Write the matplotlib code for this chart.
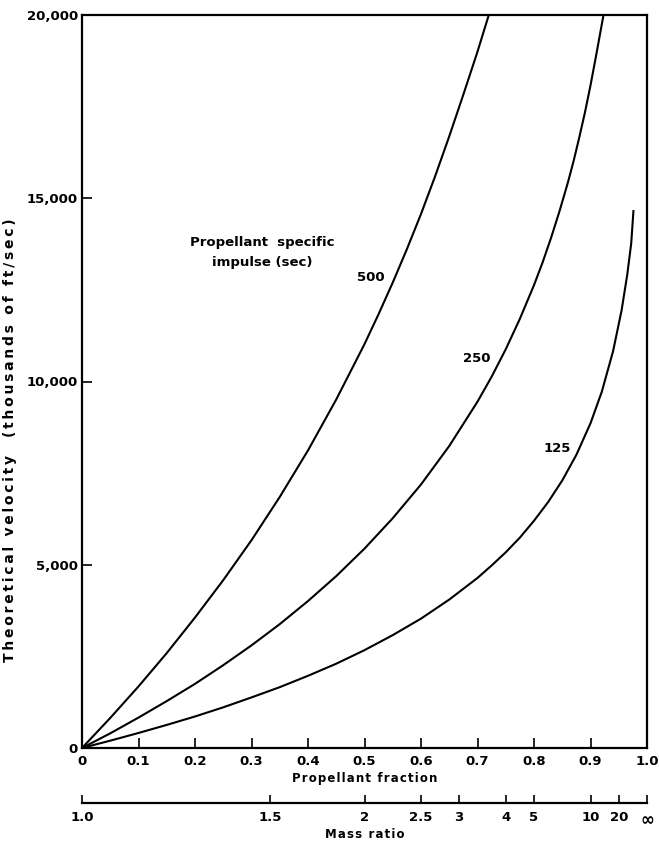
import matplotlib
matplotlib.use("Agg")
import matplotlib.pyplot as plt

# propellant fraction vs theoretical velocity
frac_500 = [0, 0.05, 0.1, 0.15, 0.2, 0.25, 0.3, 0.35, 0.4, 0.45, 0.5, 0.525, 0.55, 0.575,
            0.6, 0.625, 0.65, 0.675, 0.7, 0.72]
vel_500 = [0, 820, 1680, 2590, 3560, 4580, 5670, 6850, 8120, 9510, 11020, 11840, 12700, 13610,
           14570, 15600, 16690, 17830, 19000, 20000]

frac_250 = [0, 0.05, 0.1, 0.15, 0.2, 0.25, 0.3, 0.35, 0.4, 0.45, 0.5, 0.55, 0.6, 0.65, 0.7, 0.725,
            0.75, 0.775, 0.8, 0.815, 0.83, 0.845, 0.86, 0.87, 0.88, 0.89, 0.9, 0.91, 0.923]
vel_250 = [0, 400, 830, 1280, 1750, 2260, 2800, 3380, 4010, 4690, 5440, 6270, 7190, 8240, 9450, 10130,
           10880, 11710, 12630, 13240, 13910, 14640, 15430, 16010, 16650, 17330, 18080, 18900, 20000]

frac_125 = [0, 0.05, 0.1, 0.15, 0.2, 0.25, 0.3, 0.35, 0.4, 0.45, 0.5, 0.55, 0.6, 0.65, 0.7, 0.725,
            0.75, 0.775, 0.8, 0.825, 0.85, 0.875, 0.9, 0.92, 0.94, 0.955, 0.965, 0.972, 0.976]
vel_125 = [0, 200, 410, 630, 860, 1110, 1380, 1660, 1970, 2300, 2670, 3080, 3530, 4050, 4640, 4980,
           5340, 5740, 6200, 6710, 7300, 8000, 8860, 9720, 10830, 11940, 12910, 13760, 14650]

x_ticks = [0, 0.1, 0.2, 0.3, 0.4, 0.5, 0.6, 0.7, 0.8, 0.9, 1.0]
x_labels = ["0", "0.1", "0.2", "0.3", "0.4", "0.5", "0.6", "0.7", "0.8", "0.9", "1.0"]
y_ticks = [0, 5000, 10000, 15000, 20000]
y_labels = ["0", "5,000", "10,000", "15,000", "20,000"]

mass_ratio = [1.0, 1.5, 2, 2.5, 3, 4, 5, 10, 20]
mass_labels = ["1.0", "1.5", "2", "2.5", "3", "4", "5", "10", "20", "\u221e"]

plt.rcParams['font.family'] = ['DejaVu Sans']
plt.rcParams['font.weight'] = 'semibold'
plt.rcParams['axes.labelweight'] = 'semibold'


def spaced(s, gap="\u200a"):
    # the original lettering is widely spaced
    return gap.join(s)


W, H = 659, 842
fig = plt.figure(figsize=(W / 100, H / 100), dpi=100)
left, right, bottom, top = 82 / W, 647 / W, 1 - 748 / H, 1 - 15 / H
ax = fig.add_axes([left, bottom, right - left, top - bottom])

for f, v in [(frac_500, vel_500), (frac_250, vel_250), (frac_125, vel_125)]:
    ax.plot(f, v, color='black', lw=1.5, solid_joinstyle='round')

ax.set_xlim(0, 1.0)
ax.set_ylim(0, 20000)
for s in ax.spines.values():
    s.set_linewidth(1.6)

ax.set_xticks(x_ticks)
ax.set_xticklabels(x_labels, fontsize=9.5)
ax.set_yticks(y_ticks)
ax.set_yticklabels(y_labels, fontsize=9.5)
ax.tick_params(axis='x', direction='in', length=7, width=1.2, pad=5)
ax.tick_params(axis='y', direction='in', length=7, width=1.2, pad=3)

ax.set_xlabel(spaced("Propellant fraction"), fontsize=8.5, labelpad=3)
ax.set_ylabel(spaced("Theoretical velocity  (thousands of ft/sec)", "\u2009"), fontsize=10)
ax.yaxis.set_label_coords(-0.115, 0.42)

ax.text(0.319, 13780, "Propellant  specific", ha='center', va='center', fontsize=9.5)
ax.text(0.319, 13260, "impulse (sec)", ha='center', va='center', fontsize=9.5)
ax.text(0.512, 12825, "500", ha='center', va='center', fontsize=9.5)
ax.text(0.699, 10615, "250", ha='center', va='center', fontsize=9.5)
ax.text(0.842, 8160, "125", ha='center', va='center', fontsize=9.5)

# mass ratio scale under the main axis
ax2 = fig.add_axes([left, 1 - 803 / H, right - left, 0.0001])
for name in ['left', 'right', 'top']:
    ax2.spines[name].set_visible(False)
ax2.spines['bottom'].set_linewidth(1.6)
ax2.set_xlim(0, 1.0)
ax2.set_yticks([])
mr_pos = [1 - 1 / m for m in mass_ratio] + [1.0]
ax2.set_xticks(mr_pos)
ax2.set_xticklabels(mass_labels, fontsize=9.5)
ax2.get_xticklabels()[-1].set_fontsize(12)
ax2.get_xticklabels()[-1].set_fontweight('bold')
ax2.tick_params(axis='x', direction='in', length=6, width=1.2, pad=6)
fig.text(365 / W, 1 - 834 / H, spaced("Mass ratio"), ha='center', va='center',
         fontsize=8.5, fontweight='semibold')

fig.savefig("out.png", dpi=100)
